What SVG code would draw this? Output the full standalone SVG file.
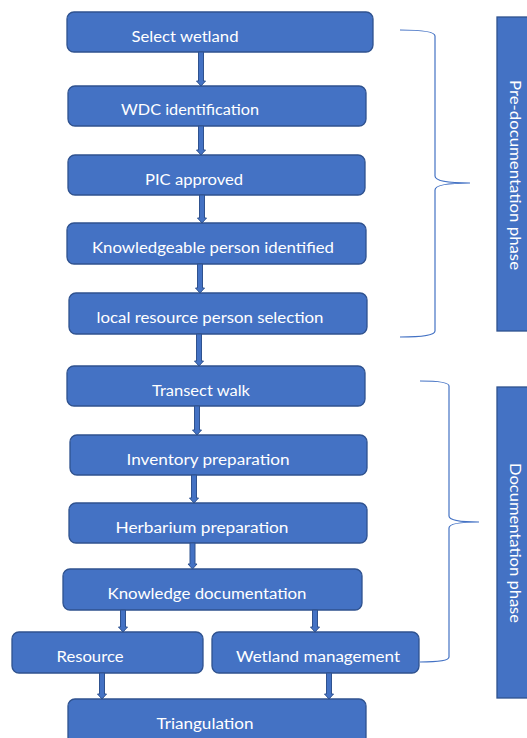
<svg xmlns="http://www.w3.org/2000/svg" width="527" height="738" viewBox="0 0 527 738">
<defs>
<style>
.box{fill:#4472C4;stroke:#2F528F;stroke-width:1.3}
.t{fill:#ffffff;font-family:Lato,"Open Sans","Liberation Sans",sans-serif;font-size:15.5px;text-anchor:middle}
.arr{fill:#4472C4;stroke:#2F528F;stroke-width:1}
.brace{fill:none;stroke:#4472C4;stroke-width:1.2}
</style>
<path id="a" d="M-2.5,0 V-5 H-4.5 L0,0 Z"/>
</defs>
<rect width="527" height="738" fill="#ffffff"/>
<g id="n1"><rect class="box" x="67" y="12" width="306" height="40" rx="7"/><text class="t" x="185" y="42" textLength="107" lengthAdjust="spacingAndGlyphs">Select wetland</text></g>
<g id="n2"><rect class="box" x="68" y="86" width="298" height="40" rx="7"/><text class="t" x="190" y="115" textLength="138" lengthAdjust="spacingAndGlyphs">WDC identification</text></g>
<g id="n3"><rect class="box" x="68" y="155" width="297" height="40" rx="7"/><text class="t" x="194" y="185" textLength="98" lengthAdjust="spacingAndGlyphs">PIC approved</text></g>
<g id="n4"><rect class="box" x="67" y="223" width="299" height="41" rx="7"/><text class="t" x="213" y="253" textLength="242" lengthAdjust="spacingAndGlyphs">Knowledgeable person identified</text></g>
<g id="n5"><rect class="box" x="69" y="293" width="298" height="41" rx="7"/><text class="t" x="210" y="323" textLength="227" lengthAdjust="spacingAndGlyphs">local resource person selection</text></g>
<g id="n6"><rect class="box" x="67" y="366" width="298" height="40" rx="7"/><text class="t" x="201" y="396" textLength="98" lengthAdjust="spacingAndGlyphs">Transect walk</text></g>
<g id="n7"><rect class="box" x="70" y="435" width="297" height="40" rx="7"/><text class="t" x="208" y="465" textLength="163" lengthAdjust="spacingAndGlyphs">Inventory preparation</text></g>
<g id="n8"><rect class="box" x="69" y="503" width="298" height="40" rx="7"/><text class="t" x="202" y="533" textLength="173" lengthAdjust="spacingAndGlyphs">Herbarium preparation</text></g>
<g id="n9"><rect class="box" x="63" y="569" width="299" height="41" rx="7"/><text class="t" x="207" y="599" textLength="199" lengthAdjust="spacingAndGlyphs">Knowledge documentation</text></g>
<g id="n10"><rect class="box" x="12" y="632" width="191" height="41" rx="7"/><text class="t" x="90" y="662" textLength="67" lengthAdjust="spacingAndGlyphs">Resource</text></g>
<g id="n11"><rect class="box" x="212" y="632" width="207" height="41" rx="7"/><text class="t" x="318" y="662" textLength="164" lengthAdjust="spacingAndGlyphs">Wetland management</text></g>
<g id="n12"><rect class="box" x="68" y="699" width="298" height="45" rx="7"/><text class="t" x="205" y="729" textLength="97" lengthAdjust="spacingAndGlyphs">Triangulation</text></g>
<g id="phase1"><rect class="box" x="497" y="17" width="36" height="314"/><text class="t" transform="translate(510,175) rotate(90)" textLength="190" lengthAdjust="spacingAndGlyphs">Pre-documentation phase</text></g>
<g id="phase2"><rect class="box" x="497" y="387" width="36" height="311"/><text class="t" transform="translate(510,543) rotate(90)" textLength="160" lengthAdjust="spacingAndGlyphs">Documentation phase</text></g>
<g id="connectors">
<path class="arr" d="M198.5,52 V81 H196.5 L201,86 L205.5,81 H203.5 V52 Z"/>
<path class="arr" d="M198.5,126 V150 H196.5 L201,155 L205.5,150 H203.5 V126 Z"/>
<path class="arr" d="M199.5,195 V218 H197.5 L202,223 L206.5,218 H204.5 V195 Z"/>
<path class="arr" d="M197.5,264 V288 H195.5 L200,293 L204.5,288 H202.5 V264 Z"/>
<path class="arr" d="M196.5,334 V361 H194.5 L199,366 L203.5,361 H201.5 V334 Z"/>
<path class="arr" d="M194.5,406 V430 H192.5 L197,435 L201.5,430 H199.5 V406 Z"/>
<path class="arr" d="M191.5,475 V498 H189.5 L194,503 L198.5,498 H196.5 V475 Z"/>
<path class="arr" d="M190,543 V564 H188 L192.5,569 L197,564 H195 V543 Z"/>
<path class="arr" d="M120.5,610 V627 H118.5 L123,632 L127.5,627 H125.5 V610 Z"/>
<path class="arr" d="M312.5,610 V627 H310.5 L315,632 L319.5,627 H317.5 V610 Z"/>
<path class="arr" d="M99.5,673 V694 H97.5 L102,699 L106.5,694 H104.5 V673 Z"/>
<path class="arr" d="M326.5,673 V694 H324.5 L329,699 L333.5,694 H331.5 V673 Z"/>
<path class="brace" d="M400,30 Q435,30 435,36 V176 Q435,183 470,183 Q435,183 435,190 V331 Q435,337 400,337"/>
<path class="brace" d="M420,381 Q449,381 449,386 V516 Q449,522 479,522 Q449,522 449,528 V657 Q449,662 420,662"/>
</g>
</svg>
